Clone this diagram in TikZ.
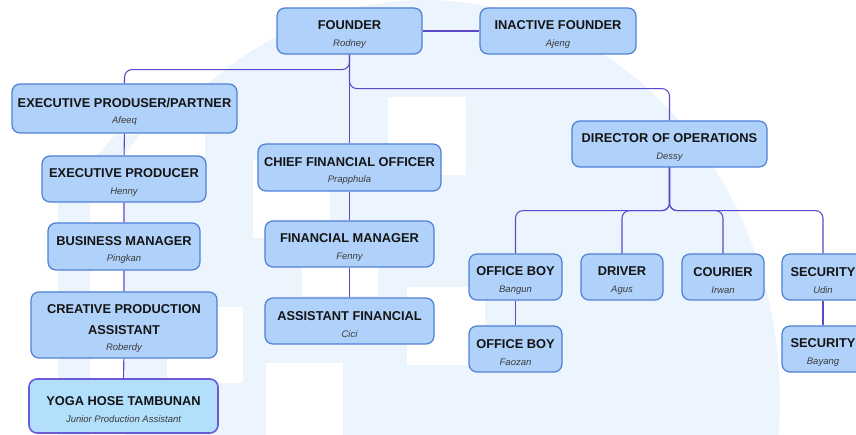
\documentclass[tikz,border=0pt]{standalone}
\usepackage{fontspec}
\setmainfont{Liberation Sans}
\definecolor{boxfill}{HTML}{B0D2FA}
\definecolor{boxline}{HTML}{4F80D4}
\definecolor{juniorfill}{HTML}{B2DFFC}
\definecolor{juniorline}{HTML}{6A5AD6}
\definecolor{linkline}{HTML}{5B48CB}
\definecolor{wmark}{HTML}{ECF5FE}
\definecolor{titletext}{HTML}{141414}
\definecolor{nametext}{HTML}{3A3A3A}
\newcommand{\who}[1]{{\fontsize{5.4}{6}\selectfont\itshape\color{nametext}#1}}
\newcommand{\post}[2]{\rule{0pt}{9.2pt}\textbf{#1}\\[-1.8pt]\who{#2}}
\tikzset{
  role/.style={draw=boxline, fill=boxfill, line width=0.7pt, rounded corners=0.16cm,
    align=center, inner sep=0pt, text=titletext, font=\fontsize{7.3}{11.3}\selectfont},
  junior/.style={role, draw=juniorline, fill=juniorfill, line width=0.9pt},
  wh/.style 2 args={minimum width=#1*0.02cm, minimum height=#2*0.02cm},
  link/.style={draw=linkline, line width=0.6pt, rounded corners=0.15cm},
}

\begin{document}
\begin{tikzpicture}[x=0.02cm, y=-0.02cm]
  % Boundary
  \clip (0,0) rectangle (856,435);
  % Watermark
  \fill[wmark] (425,400) ellipse [x radius=7.1cm, y radius=8cm];
  \fill[white] (0,0) rectangle (205,193);
  \fill[white] (0,193) rectangle (125,435);
  \fill[wmark] (58,435) -- (58,200) -- (115,135) -- (140,135) -- (90,193) -- (90,435) -- cycle;
  \foreach \xa/\ya/\xb/\yb in {388/97/466/175, 253/160/330/238, 302/222/378/296,
                               407/287/485/365, 266/363/343/440, 167/307/243/383}
    \fill[white] (\xa,\ya) rectangle (\xb,\yb);
  % Top
  \node[role, wh={145}{46}] (founder) at (349.5,31) {\post{FOUNDER}{Rodney}};
  \node[role, wh={156}{46}] (inactive) at (558,31) {\post{INACTIVE FOUNDER}{Ajeng}};
  % Production column
  \node[role, wh={225}{49}] (partner) at (124.5,108.5) {\post{EXECUTIVE PRODUSER/PARTNER}{Afeeq}};
  \node[role, wh={164}{46}] (producer) at (124,179) {\post{EXECUTIVE PRODUCER}{Henny}};
  \node[role, wh={152}{47}] (business) at (124,246.5) {\post{BUSINESS MANAGER}{Pingkan}};
  \node[role, wh={186}{66}] (creative) at (124,325)
    {\rule{0pt}{9.2pt}\textbf{CREATIVE PRODUCTION}\\[0.6pt]\textbf{ASSISTANT}\\[-1.8pt]\who{Roberdy}};
  \node[junior, wh={189}{54}] (yoga) at (123.5,406) {\post{YOGA HOSE TAMBUNAN}{Junior Production Assistant}};
  % Finance column
  \node[role, wh={183}{47}] (cfo) at (349.5,167.5) {\post{CHIEF FINANCIAL OFFICER}{Prapphula}};
  \node[role, wh={169}{46}] (finmgr) at (349.5,244) {\post{FINANCIAL MANAGER}{Fenny}};
  \node[role, wh={169}{46}] (finassist) at (349.5,321) {\post{ASSISTANT FINANCIAL}{Cici}};
  % Operations
  \node[role, wh={195}{46}] (director) at (669.5,144) {\post{DIRECTOR OF OPERATIONS}{Dessy}};
  \node[role, wh={93}{46}] (officeboy) at (515.5,277) {\post{OFFICE BOY}{Bangun}};
  \node[role, wh={93}{46}] (officeboytwo) at (515.5,349) {\post{OFFICE BOY}{Faozan}};
  \node[role, wh={82}{46}] (driver) at (622,277) {\post{DRIVER}{Agus}};
  \node[role, wh={82}{46}] (courier) at (723,277) {\post{COURIER}{Irwan}};
  \node[role, wh={82}{46}] (security) at (823,277) {\post{SECURITY}{Udin}};
  \node[role, wh={82}{46}] (securitytwo) at (823,349) {\post{SECURITY}{Bayang}};
  % Links
  \draw[link] (founder.east) -- (inactive.west);
  \draw[link] (founder.south) -- ++(0,15) -| (partner.north);
  \draw[link] (founder.south) -- (cfo.north);
  \draw[link] (founder.south) -- ++(0,34) -| (director.north);
  \draw[link] (partner) -- (producer) (producer) -- (business) (business) -- (creative) (creative) -- (yoga);
  \draw[link] (cfo) -- (finmgr) (finmgr) -- (finassist);
  \foreach \n in {officeboy, driver, courier, security}
    \draw[link] (director.south) -- ++(0,43) -| (\n.north);
  \draw[link] (officeboy) -- (officeboytwo);
  \draw[link] (security) -- (securitytwo);
\end{tikzpicture}
\end{document}
